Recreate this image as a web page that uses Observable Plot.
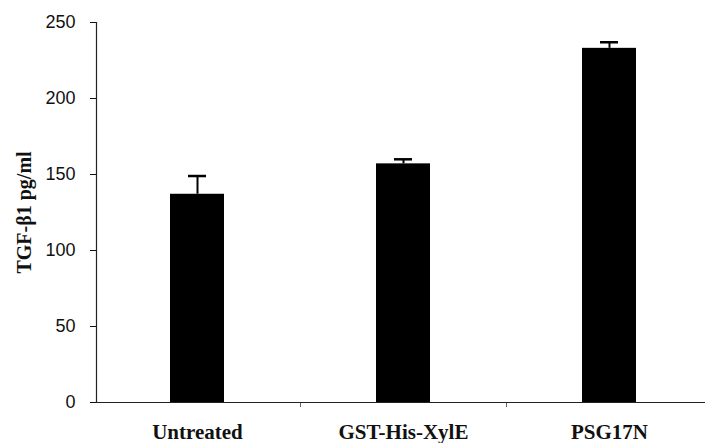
<!DOCTYPE html>
<html>
<head>
<meta charset="utf-8">
<script src="https://cdn.jsdelivr.net/npm/d3@7"></script>
<script src="https://cdn.jsdelivr.net/npm/@observablehq/plot@0.6"></script>
<style>
  html, body { margin: 0; padding: 0; background: #fff; }
  svg { display: block; }
</style>
</head>
<body>
<div id="chart"></div>
<script>
const categories = ["Untreated", "GST-His-XylE", "PSG17N"];
const values = [137, 157, 233];
const errUpper = [149, 160, 237];
const yTicks = [0, 50, 100, 150, 200, 250];
const yLabel = "TGF-\u03B21 pg/ml";

const data = categories.map((c, i) => ({cat: c, v: values[i], e: errUpper[i]}));

const plot = Plot.plot({
  width: 705,
  height: 443,
  marginTop: 22,
  marginBottom: 41,
  marginLeft: 96,
  marginRight: 0,
  style: {background: "#fff", color: "#111"},
  x: {domain: categories, range: [94, 712], paddingInner: 0.74, paddingOuter: 0.37, align: 0.5, label: null},
  y: {domain: [0, 250], ticks: yTicks, label: yLabel},
  marks: [
    Plot.barY(data, {x: "cat", y: "v", fill: "#000"}),
    Plot.ruleX(data, {x: "cat", y1: "v", y2: "e", stroke: "#000", strokeWidth: 2}),
    Plot.tickY(data, {x: "cat", y: "e", stroke: "#000", strokeWidth: 2.5, insetLeft: 18, insetRight: 18}),
    Plot.ruleX(categories.slice(0, 2), {x: d => d, dx: 103, insetTop: 375, dy: 5, stroke: "#666", strokeWidth: 1}),
    Plot.frame({anchor: "left", stroke: "#222", strokeWidth: 1.2}),
    Plot.frame({anchor: "bottom", stroke: "#222", strokeWidth: 1.2}),
    Plot.axisY({ticks: yTicks, tickSize: 6, tickPadding: 15, fontSize: 18, fontFamily: "Liberation Sans",
      label: yLabel, labelAnchor: "center", labelArrow: "none", labelOffset: 80}),
    Plot.axisX({tickSize: 0, tickPadding: 22, fontSize: 21, fontFamily: "Liberation Serif", fontWeight: "bold"})
  ]
});
document.getElementById("chart").appendChild(plot);
d3.select(plot).selectAll("[aria-label='y-axis label'] text")
  .style("font-family", "Liberation Serif").style("font-size", "20px").style("font-weight", "bold");
</script>
</body>
</html>
